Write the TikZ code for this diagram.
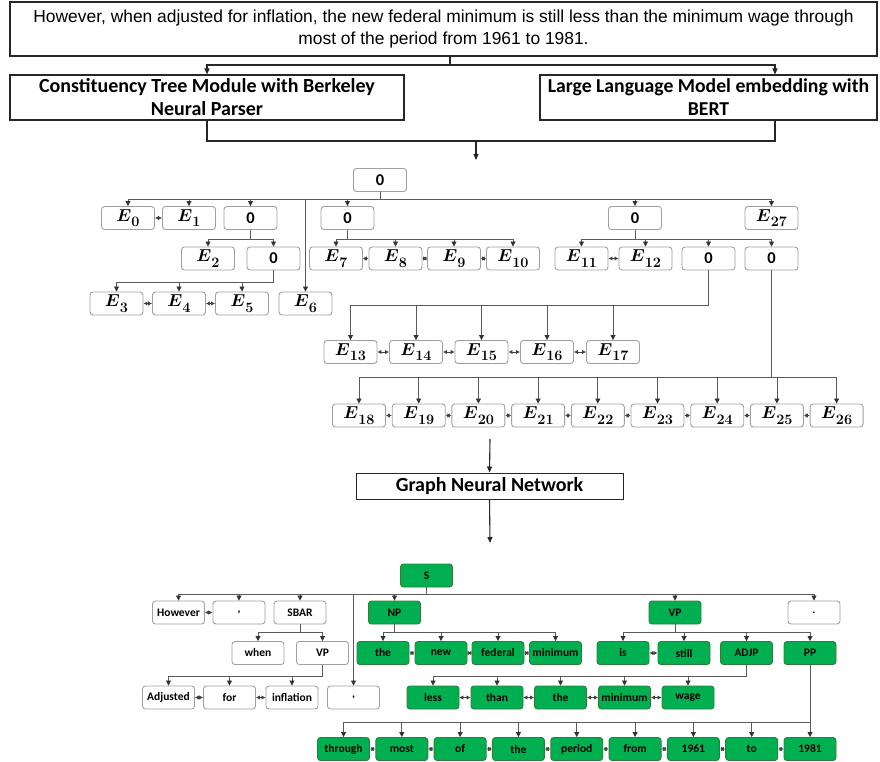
\documentclass[tikz,border=0pt]{standalone}
\usepackage{fontspec}
\usepackage{bm}
\setmainfont{Carlito}
\newfontfamily\arialf{Liberation Sans}
\usetikzlibrary{arrows.meta}
\definecolor{gfill}{HTML}{00B050}
\definecolor{gdraw}{HTML}{2F7D3A}
\definecolor{bgray}{HTML}{A0A0A0}
\definecolor{lgray}{HTML}{5A5A5A}
\newcommand\branch[3]{\foreach \c in {#3}{\draw[arr] (#1.south) -- (#1.south |- #2) -| (\c.north);}}
\newcommand\sibs[1]{\foreach \a/\b in {#1}{\draw[sib] (\a.east) -- (\b.west);}}
\newcommand\EE[1]{$\bm{E}$\raisebox{-0.3em}{\fontsize{14.5}{14}\selectfont$\bm{#1}$}}
\begin{document}
\begin{tikzpicture}[x=1pt,y=-1pt,
  frame/.style={draw=black!85, line width=1.1pt, inner sep=0pt, align=center},
  tbox/.style={draw=bgray, rounded corners=3pt, line width=0.9pt, minimum width=53pt, minimum height=23pt, inner sep=0pt, fill=white, font=\bfseries\fontsize{16.5}{16}\selectfont},
  ebox/.style={tbox, font=\fontsize{17.5}{17}\selectfont},
  sbox/.style={tbox, minimum width=52pt, font=\bfseries\fontsize{11.5}{12}\selectfont},
  gbox/.style={sbox, fill=gfill, draw=gdraw},
  arr/.style={draw=lgray, line width=0.8pt, -{Triangle[length=5pt,width=5pt,fill=black!80,color=black!80]}},
  sib/.style={draw=black!75, line width=1pt, {Latex[length=4pt,width=4.5pt]}-{Latex[length=4pt,width=4.5pt]}},
  big/.style={draw=black!85, line width=1.1pt, -{Triangle[length=6pt,width=5pt]}},
  bigline/.style={draw=black!85, line width=1.1pt}
]
\useasboundingbox (0,0) rectangle (880,762);

% ---------- top part ----------
\node[frame, minimum width=867pt, minimum height=54pt, font=\arialf\fontsize{17.4}{22}\selectfont] (sent) at (443.5,29)
  {However, when adjusted for inflation, the new federal minimum is still less than the minimum wage through\\most of the period from 1961 to 1981.};
\node[frame, minimum width=394pt, minimum height=45pt, font=\bfseries\fontsize{20}{23}\selectfont] (ctm) at (207,97.5)
  {Constituency Tree Module with Berkeley\\Neural Parser};
\node[frame, minimum width=337pt, minimum height=45pt, font=\bfseries\fontsize{19.7}{23}\selectfont] (llm) at (708.5,97.5)
  {Large Language Model embedding with\\BERT};
\coordinate (s1) at (450,65);
\coordinate (s2) at (775,65);
\coordinate (j1) at (476,141);
\coordinate (j2) at (775,141);
\coordinate (j3) at (476,160);
\draw[bigline] (sent.south -| s1) -- (s1);
\draw[big] (s1) -| (ctm.north);
\draw[big] (s1) -- (s2) -- (llm.north -| s2);
\draw[bigline] (ctm.south) -- (ctm.south |- j1) -- (j2) -- (llm.south -| j2);
\draw[big] (j1) -- (j3);

% ---------- constituency tree (top) ----------
\node[tbox] (r0) at (380,180) {0};
\node[ebox] (E0) at (128,218) {\EE{0}};
\node[ebox] (E1) at (189,218) {\EE{1}};
\node[tbox] (a0) at (250.5,218) {0};
\node[tbox] (b0) at (347.5,218) {0};
\node[tbox] (m0) at (635,218) {0};
\node[ebox] (E27) at (771.5,218) {\EE{27}};
\node[ebox] (E2) at (208,258.5) {\EE{2}};
\node[tbox] (c0) at (273.5,258.5) {0};
\node[ebox] (E7) at (336,258.5) {\EE{7}};
\node[ebox] (E8) at (395.5,258.5) {\EE{8}};
\node[ebox] (E9) at (454,258.5) {\EE{9}};
\node[ebox] (E10) at (513,258.5) {\EE{10}};
\node[ebox] (E11) at (581.5,258.5) {\EE{11}};
\node[ebox] (E12) at (645.5,258.5) {\EE{12}};
\node[tbox] (d0) at (708.5,258.5) {0};
\node[tbox] (e0) at (771.5,258.5) {0};
\node[ebox] (E3) at (116.5,303.5) {\EE{3}};
\node[ebox] (E4) at (179,303.5) {\EE{4}};
\node[ebox] (E5) at (242,303.5) {\EE{5}};
\node[ebox] (E6) at (305.5,303.5) {\EE{6}};
\foreach \i/\x in {13/350.5,14/416,15/481.5,16/547,17/613}
  \node[ebox] (E\i) at (\x,352) {\EE{\i}};
\foreach \i [evaluate=\i as \x using 359+59.7*(\i-18)] in {18,...,26}
  \node[ebox] (E\i) at (\x,415.5) {\EE{\i}};

\coordinate (busA) at (0,199);
\coordinate (busB) at (0,239);
\coordinate (busC) at (0,282);
\coordinate (busD) at (0,305);
\coordinate (busE) at (0,377);
\branch{r0}{busA}{E0,E1,a0,E6,b0,m0,E27}
\branch{a0}{busB}{E2,c0}
\branch{b0}{busB}{E7,E8,E9,E10}
\branch{m0}{busB}{E11,E12,d0,e0}
\branch{c0}{busC}{E3,E4,E5}
\branch{d0}{busD}{E13,E14,E15,E16,E17}
\branch{e0}{busE}{E18,E19,E20,E21,E22,E23,E24,E25,E26}
\sibs{E0/E1,E3/E4,E4/E5,E7/E8,E8/E9,E9/E10,E11/E12,E13/E14,E14/E15,E15/E16,E16/E17,E18/E19,E19/E20,E20/E21,E21/E22,E22/E23,E23/E24,E24/E25,E25/E26}

% ---------- GNN ----------
\node[frame, minimum width=267pt, minimum height=26pt, line width=1pt, font=\bfseries\fontsize{20}{20}\selectfont] (gnn) at (489.5,486) {Graph Neural Network};
\coordinate (g0) at (490,439);
\coordinate (g1) at (490,543);
\draw[big] (g0) -- (gnn.north);
\draw[big] (gnn.south) -- (g1);

% ---------- constituency tree (bottom) ----------
\node[gbox] (S) at (426.5,575.5) {S};
\node[sbox] (however) at (178.5,612.5) {However};
\node[sbox] (comma1) at (239,612.5) {,};
\node[sbox] (sbar) at (300,612.5) {SBAR};
\node[gbox] (np) at (394.5,612.5) {NP};
\node[gbox] (vp) at (675,612.5) {VP};
\node[sbox] (dot) at (814,612.5) {.};
\node[sbox] (when) at (258,653) {when};
\node[sbox] (vpa) at (322.5,653) {VP};
\node[gbox] (the1) at (383,653) {the};
\node[gbox] (new) at (441,653) {new};
\node[gbox] (federal) at (498,653) {federal};
\node[gbox] (minimum1) at (555.5,653) {minimum};
\node[gbox] (is) at (623,653) {is};
\node[gbox] (still) at (684,653) {still};
\node[gbox] (adjp) at (746.5,653) {ADJP};
\node[gbox] (pp) at (810,653) {PP};
\node[sbox] (adjusted) at (168.5,697.5) {Adjusted};
\node[sbox] (for) at (229.5,697.5) {for};
\node[sbox] (inflation) at (292,697.5) {inflation};
\node[sbox] (comma2) at (353.5,697.5) {,};
\node[gbox] (less) at (433,697.5) {less};
\node[gbox] (than) at (497,697.5) {than};
\node[gbox] (the2) at (560.5,697.5) {the};
\node[gbox] (minimum2) at (624.5,697.5) {minimum};
\node[gbox] (wage) at (688,697.5) {wage};
\foreach \n/\t [count=\k from 0] in {w0/through,w1/most,w2/of,w3/the,w4/period,w5/from,w6/1961,w7/to,w8/1981}
  \node[gbox] (\n) at ({343.5+58.3125*\k},749) {\t};

\coordinate (busF) at (0,594);
\coordinate (busG) at (0,632);
\coordinate (busH) at (0,676);
\coordinate (busI) at (0,722);
\branch{S}{busF}{however,comma1,sbar,comma2,np,vp,dot}
\branch{sbar}{busG}{when,vpa}
\branch{np}{busG}{the1,new,federal,minimum1}
\branch{vp}{busG}{is,still,adjp,pp}
\branch{vpa}{busH}{adjusted,for,inflation}
\branch{adjp}{busH}{less,than,the2,minimum2,wage}
\branch{pp}{busI}{w0,w1,w2,w3,w4,w5,w6,w7,w8}
\sibs{however/comma1,adjusted/for,for/inflation,the1/new,new/federal,federal/minimum1,is/still,less/than,than/the2,the2/minimum2,minimum2/wage,w0/w1,w1/w2,w2/w3,w3/w4,w4/w5,w5/w6,w6/w7,w7/w8}
\end{tikzpicture}
\end{document}
